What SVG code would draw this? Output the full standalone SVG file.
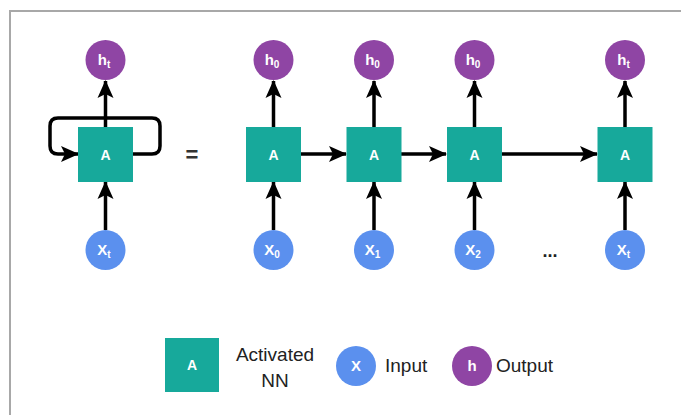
<svg xmlns="http://www.w3.org/2000/svg" width="681" height="415" viewBox="0 0 681 415">
  <defs>
    <style>
      .cell { fill: #17a99b; }
      .inp { fill: #5b90ee; }
      .out { fill: #8f45a4; }
      .lbl { font-family: "Liberation Sans", Arial, sans-serif; font-weight: bold; fill: #ffffff; text-anchor: middle; }
      .sub { font-size: 10px; }
      .leg { font-family: "Liberation Sans", Arial, sans-serif; font-size: 19px; fill: #222222; }
      .wire { fill: none; stroke: #000000; stroke-width: 3.5; }
    </style>
    <marker id="arrow" markerUnits="userSpaceOnUse" markerWidth="20" markerHeight="20" viewBox="0 0 20 20" refX="18" refY="10" orient="auto">
      <path d="M1,2 L19,10 L1,18 L5,10 Z" fill="#000000"/>
    </marker>
  </defs>

  <rect width="681" height="415" fill="#ffffff"/>
  <!-- frame edges -->
  <path d="M10,415 L10,11 L681,11" fill="none" stroke="#a8a8a8" stroke-width="2"/>

  <!-- connectors -->
  <g id="connectors">
    <!-- folded cell: self loop and vertical flow -->
    <path class="wire" d="M133,154 L152,154 Q160,154 160,146 L160,126 Q160,118 152,118 L58,118 Q50,118 50,126 L50,146 Q50,154 58,154 L78,154" marker-end="url(#arrow)"/>
    <path class="wire" d="M105.5,127 L105.5,81" marker-end="url(#arrow)"/>
    <path class="wire" d="M105.5,230 L105.5,182" marker-end="url(#arrow)"/>

    <!-- unrolled: outputs -->
    <path class="wire" d="M273.5,127 L273.5,81" marker-end="url(#arrow)"/>
    <path class="wire" d="M374,127 L374,81" marker-end="url(#arrow)"/>
    <path class="wire" d="M474.5,127 L474.5,81" marker-end="url(#arrow)"/>
    <path class="wire" d="M625,127 L625,81" marker-end="url(#arrow)"/>

    <!-- unrolled: inputs -->
    <path class="wire" d="M273.5,230 L273.5,182" marker-end="url(#arrow)"/>
    <path class="wire" d="M374,230 L374,182" marker-end="url(#arrow)"/>
    <path class="wire" d="M474.5,230 L474.5,182" marker-end="url(#arrow)"/>
    <path class="wire" d="M625,230 L625,182" marker-end="url(#arrow)"/>

    <!-- unrolled: hidden state chain -->
    <path class="wire" d="M301,154 L346,154" marker-end="url(#arrow)"/>
    <path class="wire" d="M401,154 L446,154" marker-end="url(#arrow)"/>
    <path class="wire" d="M502,154 L597,154" marker-end="url(#arrow)"/>
  </g>

  <!-- folded cell -->
  <g id="h-fold">
    <circle class="out" cx="105.5" cy="60" r="20"/>
    <text class="lbl" x="104" y="65" font-size="15">h<tspan class="sub" dy="3">t</tspan></text>
  </g>
  <g id="a-fold">
    <rect class="cell" x="78" y="127" width="55" height="55"/>
    <text class="lbl" x="105.5" y="159.5" font-size="14">A</text>
  </g>
  <g id="x-fold">
    <circle class="inp" cx="105.5" cy="250" r="20"/>
    <text class="lbl" x="104" y="255" font-size="15">X<tspan class="sub" dy="3">t</tspan></text>
  </g>

  <g id="equals">
    <text x="192" y="162" font-family="Liberation Sans, Arial, sans-serif" font-size="22" font-weight="bold" fill="#333333" text-anchor="middle">=</text>
  </g>

  <!-- step 0 -->
  <g id="h0">
    <circle class="out" cx="273.5" cy="60" r="20"/>
    <text class="lbl" x="272" y="65" font-size="15">h<tspan class="sub" dy="3">0</tspan></text>
  </g>
  <g id="a0">
    <rect class="cell" x="246" y="127" width="55" height="55"/>
    <text class="lbl" x="273.5" y="159.5" font-size="14">A</text>
  </g>
  <g id="x0">
    <circle class="inp" cx="273.5" cy="250" r="20"/>
    <text class="lbl" x="272" y="255" font-size="15">X<tspan class="sub" dy="3">0</tspan></text>
  </g>

  <!-- step 1 -->
  <g id="h1">
    <circle class="out" cx="374" cy="60" r="20"/>
    <text class="lbl" x="372.5" y="65" font-size="15">h<tspan class="sub" dy="3">0</tspan></text>
  </g>
  <g id="a1">
    <rect class="cell" x="346.5" y="127" width="55" height="55"/>
    <text class="lbl" x="374" y="159.5" font-size="14">A</text>
  </g>
  <g id="x1">
    <circle class="inp" cx="374" cy="250" r="20"/>
    <text class="lbl" x="372.5" y="255" font-size="15">X<tspan class="sub" dy="3">1</tspan></text>
  </g>

  <!-- step 2 -->
  <g id="h2">
    <circle class="out" cx="474.5" cy="60" r="20"/>
    <text class="lbl" x="473" y="65" font-size="15">h<tspan class="sub" dy="3">0</tspan></text>
  </g>
  <g id="a2">
    <rect class="cell" x="447" y="127" width="55" height="55"/>
    <text class="lbl" x="474.5" y="159.5" font-size="14">A</text>
  </g>
  <g id="x2">
    <circle class="inp" cx="474.5" cy="250" r="20"/>
    <text class="lbl" x="473" y="255" font-size="15">X<tspan class="sub" dy="3">2</tspan></text>
  </g>

  <g id="ellipsis">
    <text x="550" y="257" font-family="Liberation Sans, Arial, sans-serif" font-size="18" font-weight="bold" fill="#222222" text-anchor="middle">...</text>
  </g>

  <!-- step t -->
  <g id="ht">
    <circle class="out" cx="625" cy="60" r="20"/>
    <text class="lbl" x="623.5" y="65" font-size="15">h<tspan class="sub" dy="3">t</tspan></text>
  </g>
  <g id="at">
    <rect class="cell" x="597.5" y="127" width="55" height="55"/>
    <text class="lbl" x="625" y="159.5" font-size="14">A</text>
  </g>
  <g id="xt">
    <circle class="inp" cx="625" cy="250" r="20"/>
    <text class="lbl" x="623.5" y="255" font-size="15">X<tspan class="sub" dy="3">t</tspan></text>
  </g>

  <!-- legend -->
  <g id="legend-cell">
    <rect class="cell" x="165" y="338" width="54" height="54"/>
    <text class="lbl" x="192" y="370" font-size="14">A</text>
    <text class="leg" x="275" y="361" text-anchor="middle">Activated</text>
    <text class="leg" x="275" y="387" text-anchor="middle">NN</text>
  </g>
  <g id="legend-input">
    <circle class="inp" cx="356" cy="366" r="20"/>
    <text class="lbl" x="356" y="371" font-size="15">X</text>
    <text class="leg" x="385" y="372">Input</text>
  </g>
  <g id="legend-output">
    <circle class="out" cx="472" cy="366" r="20"/>
    <text class="lbl" x="472" y="371" font-size="15">h</text>
    <text class="leg" x="496" y="372">Output</text>
  </g>
</svg>
